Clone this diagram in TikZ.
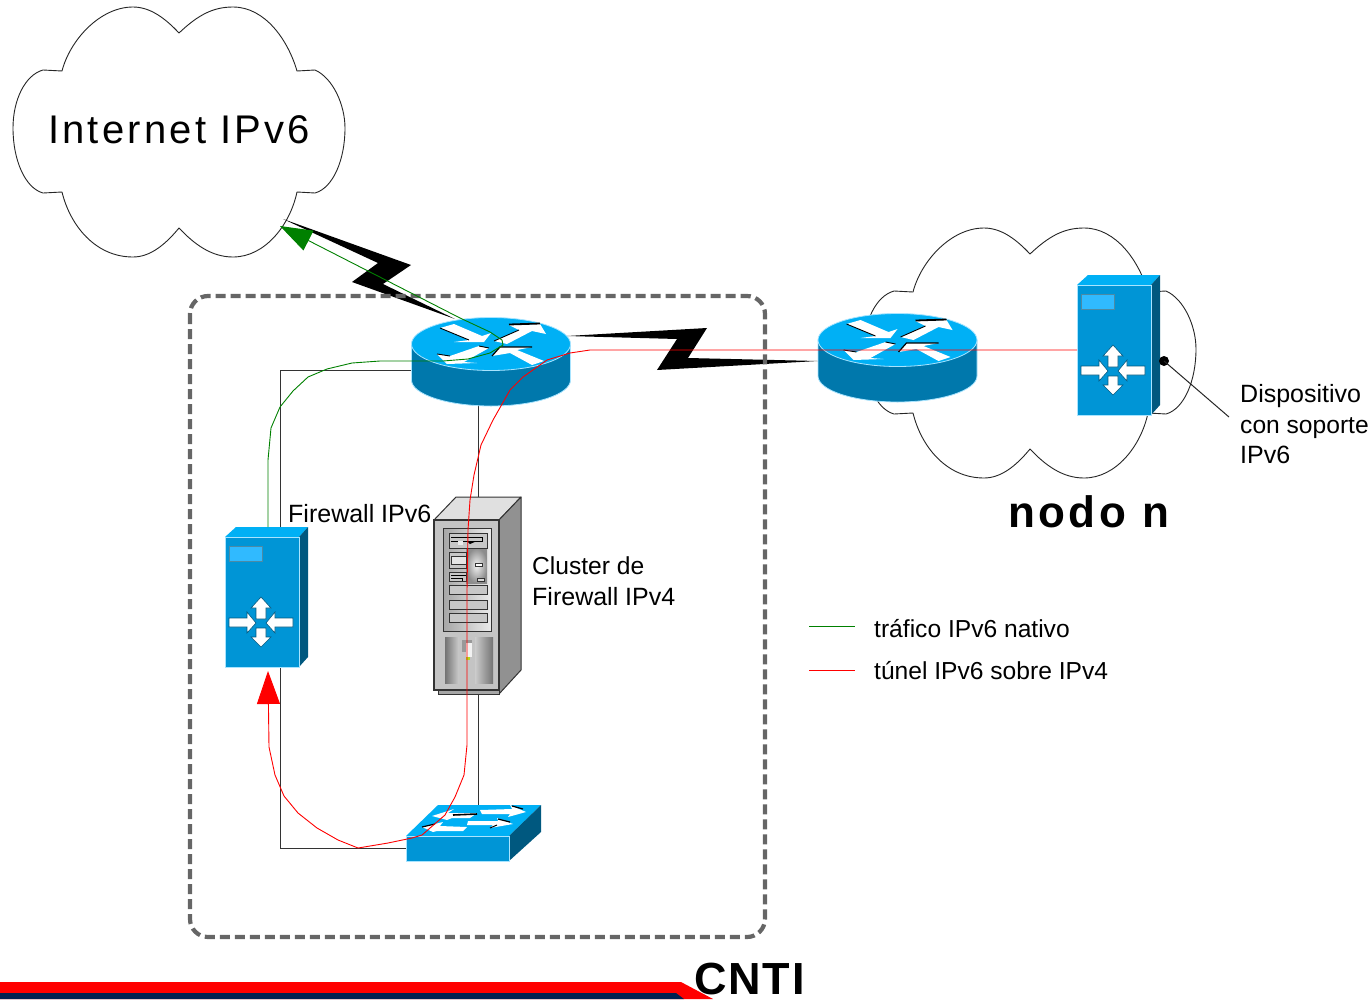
\documentclass[tikz,border=0pt]{standalone}
\usepackage{fontspec}
\setmainfont{Liberation Sans}
\newfontfamily\spacedfont[LetterSpace=8]{Liberation Sans}
\newfontfamily\cntifont[LetterSpace=4]{Liberation Sans}
\usetikzlibrary{arrows.meta}
\definecolor{ctop}{HTML}{00B0F5}
\definecolor{cside}{HTML}{0078AC}
\definecolor{cfront}{HTML}{0095D6}
\definecolor{cdark}{HTML}{00587F}
\definecolor{cedge}{HTML}{A8E4FF}
\definecolor{cpanel}{HTML}{30BAFF}
\definecolor{cdash}{HTML}{666666}
\definecolor{cgreen}{HTML}{008000}
\definecolor{cnavy}{HTML}{002050}
\tikzset{
  cloudline/.style={draw=black!85,line width=0.9pt,fill=white,line join=round},
  wire/.style={draw=black!80,line width=0.9pt},
  boltshape/.style={fill=black,draw=none},
  whitearrow/.style={fill=white,draw=cdark,line width=0.6pt,line join=miter},
  greenpath/.style={draw=cgreen,line width=0.9pt,line join=round},
  redpath/.style={draw=red,line width=0.9pt,line join=round},
  dashbox/.style={draw=cdash,line width=4.2pt,dash pattern=on 10pt off 5pt,rounded corners=18pt},
  label/.style={anchor=base west,inner sep=0pt,font=\fontsize{25}{30}\selectfont},
  labelnarrow/.style={anchor=base west,inner sep=0pt,font=\fontsize{24.6}{30}\selectfont},
  bay/.style={draw=black!80,fill=black!22,line width=1pt},
}
\newcommand\cloudshape[2]{%
\begin{scope}[shift={(#1,#2)}]
\path[cloudline] (179,33) .. controls (198,15) and (213,7) .. (233,7)
 .. controls (265,7) and (288,40) .. (297,71) -- (315,70)
 .. controls (333,78) and (345,105) .. (345,128)
 .. controls (345,160) and (333,188) .. (315,193) -- (297,192)
 .. controls (290,225) and (265,257) .. (233,257)
 .. controls (212,257) and (195,245) .. (179,228)
 .. controls (165,245) and (150,257) .. (133,257)
 .. controls (95,257) and (70,225) .. (62,192) -- (43,193)
 .. controls (25,188) and (13,160) .. (13,128)
 .. controls (13,100) and (25,75) .. (43,70) -- (62,71)
 .. controls (70,40) and (100,7) .. (133,7)
 .. controls (150,7) and (165,18) .. (179,33) -- cycle;
\end{scope}}
\newcommand\routerdev[2]{%
\begin{scope}[shift={(#1,#2)}]
\path[fill=cside,draw=cedge,line width=0.8pt] (-79.5,0) -- (-79.5,36) arc[start angle=180,end angle=360,x radius=79.5pt,y radius=26pt] -- (79.5,0) -- cycle;
\path[fill=ctop,draw=cedge,line width=0.8pt] (0,0) ellipse[x radius=79.5pt,y radius=26.5pt];
\fill[white] (-51,-16) -- (-37,-20) -- (-9,-8) -- (0,-11) -- (-7,-2) -- (-37,-2) -- (-22,-4) -- cycle;
\fill[white] (3,-3) -- (28,-14) -- (18,-19) -- (49,-20) -- (55,-10) -- (41,-13) -- (16,0) -- cycle;
\fill[white] (-2,4) -- (-27,18) -- (-14,19) -- (-44,20) -- (-54,10) -- (-41,12) -- (-12,2) -- cycle;
\fill[white] (53,17) -- (41,21) -- (19,9) -- (1,12) -- (9,3) -- (41,3) -- (26,6) -- cycle;
\draw[black,line width=1.8pt] (18,-19.5) -- (49,-20.5);
\draw[black,line width=0.9pt] (-51,-16) -- (-22,-4);
\draw[black,line width=0.9pt] (3,-3) -- (28,-14);
\draw[black,line width=1.2pt] (1,12) -- (9,3) -- (41,3);
\draw[black,line width=0.9pt] (-54,10) -- (-41,12);
\draw[black,line width=0.9pt] (-12,2) -- (-2,4);
\end{scope}}
\newcommand\serverdev[2]{%
\begin{scope}[shift={(#1,#2)}]
\path[fill=ctop] (-36,-86) -- (-25,-96) -- (47,-96) -- (38,-86) -- cycle;
\path[fill=cdark] (38,-86) -- (47,-96) -- (47,34) -- (38,44) -- cycle;
\path[fill=cfront,draw=cedge,line width=0.8pt] (-36,-86) rectangle (38,44);
\path[fill=cpanel,draw=cdark!70,line width=0.6pt] (-32,-77) rectangle (1,-62);
\path[whitearrow] (0,-26) -- (10,-15) -- (5,-15) -- (5,-4) -- (-5,-4) -- (-5,-15) -- (-10,-15) -- cycle;
\path[whitearrow] (-32,-5) -- (-14,-5) -- (-14,-11) -- (-5,0) -- (-14,10) -- (-14,4) -- (-32,4) -- cycle;
\path[whitearrow] (32,-5) -- (14,-5) -- (14,-11) -- (5,0) -- (14,10) -- (14,4) -- (32,4) -- cycle;
\path[whitearrow] (0,24) -- (10,14) -- (5,14) -- (5,5) -- (-5,5) -- (-5,14) -- (-10,14) -- cycle;
\end{scope}}
\begin{document}
\begin{tikzpicture}[x=1pt,y=-1pt]
\useasboundingbox (0,0) rectangle (1371,999);
% anchors
\coordinate (cloudA) at (283,219);
\coordinate (routerAw) at (412,370);
\coordinate (routerAs) at (478,405);
\coordinate (routerAe) at (567,336);
\coordinate (routerAn) at (455,319);
\coordinate (routerBw) at (818,361);
\coordinate (fwN) at (268,527);
\coordinate (fwS) at (268,671);
\coordinate (towerN) at (478,497);
\coordinate (towerS) at (478,694);
\coordinate (switchN) at (478,805);
\coordinate (switchW) at (406,848);
\coordinate (serverW) at (1077,350);
\coordinate (cloudTip) at (280,226);
\coordinate (portDot) at (1164,361);
\coordinate (calloutEnd) at (1229,417);
\coordinate (legGa) at (809,626);
\coordinate (legGb) at (855,626);
\coordinate (legRa) at (809,670);
\coordinate (legRb) at (855,670);
% clouds
\cloudshape{0}{0}
\cloudshape{851}{221}
% bottom band
\fill[red] (0,982) -- (681,982) -- (713,999) -- (0,999) -- cycle;
\fill[cnavy] (0,993) -- (676,993) -- (684,999) -- (0,999) -- cycle;
% wired links
\draw[wire] (routerAw) -- (280,370) -- (280,848) -- (switchW);
\draw[wire] (routerAs) -- (towerN);
\draw[wire] (towerS) -- (switchN);
% bolts
\path[boltshape] (cloudA) -- (411,265) -- (383,284) -- (routerAn) -- (352,282) -- (378,263) -- cycle;
\path[boltshape] (routerAe) -- (707,328) -- (688,358) -- (routerBw) -- (657,370) -- (677,339) -- cycle;
% dashed site
\draw[dashbox] (190,296) rectangle (765,937);
% devices
\routerdev{491}{344}
\routerdev{897.5}{340}
\serverdev{261}{623}
\serverdev{1113}{371}
% tower
\path[fill=black!12,draw=black!80,line width=1pt,line join=round] (434,520) -- (456,497) -- (521,497) -- (499,520) -- cycle;
\path[fill=black!43,draw=black!80,line width=1pt,line join=round] (499,520) -- (521,497) -- (521,670) -- (499,694) -- cycle;
\path[fill=black!35,draw=black!80,line width=1pt] (438,690) rectangle (499,694);
\path[fill=black!23,draw=black!80,line width=1.4pt] (434,520) rectangle (499,690);
\path[left color=black!35,right color=black!8,draw=black!80,line width=1pt] (443,528) rectangle (491,631);
\path[inner color=black!5,outer color=black!45] (466,548) rectangle (487,583);
\path[bay] (449,533) rectangle (487,548);
\path[bay] (449,552) rectangle (466,568);
\path[bay] (449,572) rectangle (466,581);
\path[bay] (449,585) rectangle (487,594);
\path[bay] (449,600) rectangle (487,609);
\path[bay] (449,613) rectangle (487,622);
\draw[black,line width=0.9pt] (451,537) -- (482,537) -- (482,541) -- (451,541);
\fill[black] (467,541) -- (477,541) -- (470,544) -- cycle;
\fill[black!8] (458,541) rectangle (463,545);
\draw[black!80,line width=0.8pt,fill=black!10] (451,556) rectangle (466,564);
\draw[black,line width=0.9pt] (451,575) -- (466,575) (451,578) -- (462,578) -- (462,581);
\draw[black!80,line width=0.8pt,fill=white] (475,563) rectangle (482,566);
\draw[black!80,line width=0.8pt,fill=black!15] (477,578) rectangle (484,581);
\shade[left color=black!55,right color=black!20] (445,637) rectangle (459,683);
\shade[left color=black!20,right color=black!55] (475,637) rectangle (493,683);
\fill[black!40] (462,640) rectangle (472,652);
\fill[black!5] (466,643) rectangle (472,657);
\fill[yellow!70!green] (466,657) rectangle (470,660);
% switch
\path[fill=ctop] (406,836) -- (438,805) -- (541,805) -- (509,836) -- cycle;
\path[fill=cdark] (509,836) -- (541,805) -- (541,832) -- (509,861) -- cycle;
\path[fill=cfront,draw=cedge,line width=0.8pt] (406,836) rectangle (509,861);
\fill[white] (432,816) -- (454,809) -- (448,813) -- (477,813) -- (470,818) -- (452,818) -- (447,820) -- cycle;
\fill[white] (480,810) -- (512,809) -- (510,805) -- (526,812) -- (508,817) -- (510,814) -- (482,814) -- cycle;
\fill[white] (422,827) -- (443,822) -- (440,826) -- (467,827) -- (463,831) -- (437,831) -- (433,832) -- cycle;
\fill[white] (468,821) -- (498,821) -- (497,818) -- (513,824) -- (490,828) -- (493,825) -- (467,825) -- cycle;
\draw[black,line width=1.6pt] (453,815) -- (477,814);
\draw[black,line width=1.2pt] (512,806) -- (523,809);
\draw[black,line width=1.2pt] (498,819) -- (510,822);
\draw[black,line width=1.2pt] (422,827) -- (435,824);
\draw[black,line width=1pt] (490,828) -- (497,825);
% traffic paths
\draw[greenpath,-{Triangle[length=32pt,width=22pt]}] (fwN) -- (268,460) -- (271,428) -- (280,407) -- (293,391) -- (308,377) -- (327,369) -- (352,363) -- (380,361) -- (443,361) -- (468,359) -- (490,353) -- (503,345) -- (502,340) -- (490,332) -- (460,318) -- (cloudTip);
\draw[redpath,-{Triangle[length=33pt,width=23pt]}] (serverW) -- (590,350) -- (570,353) -- (547,360) -- (523,377) -- (510,390) -- (493,420) -- (481,445) -- (474,475) -- (470,500) -- (468,530) -- (467,590) -- (467,745) -- (464,775) -- (455,797) -- (445,815) -- (422,835) -- (412,838) -- (388,843) -- (358,848) -- (338,840) -- (317,828) -- (298,813) -- (284,796) -- (275,775) -- (269,747) -- (fwS);
% callout
\fill[black] (portDot) circle[radius=5pt];
\draw[black!85,line width=1pt] (portDot) -- (calloutEnd);
% legend
\draw[cgreen,line width=0.9pt] (legGa) -- (legGb);
\draw[red,line width=0.9pt] (legRa) -- (legRb);
% texts
\node[anchor=base west,inner sep=0pt,font=\fontsize{40}{46}\selectfont\spacedfont] (inet) at (48,143) {Internet IPv6};
\node[anchor=base west,inner sep=0pt,font=\fontsize{44}{50}\selectfont\spacedfont\bfseries] (nodon) at (1008,527) {nodo n};
\node[anchor=base west,inner sep=0pt,font=\fontsize{45}{50}\selectfont\cntifont\bfseries] (cnti) at (694,994) {CNTI};
\node[label] (fwlabel) at (288,522) {Firewall IPv6};
\node[labelnarrow] (cl1) at (532,574) {Cluster de};
\node[label] (cl2) at (532,605) {Firewall IPv4};
\node[label] (d1) at (1240,402) {Dispositivo};
\node[labelnarrow] (d2) at (1240,433) {con soporte};
\node[label] (d3) at (1240,463) {IPv6};
\node[labelnarrow] (leg1) at (874,637) {tráfico IPv6 nativo};
\node[labelnarrow] (leg2) at (874,679) {túnel IPv6 sobre IPv4};
\end{tikzpicture}
\end{document}
